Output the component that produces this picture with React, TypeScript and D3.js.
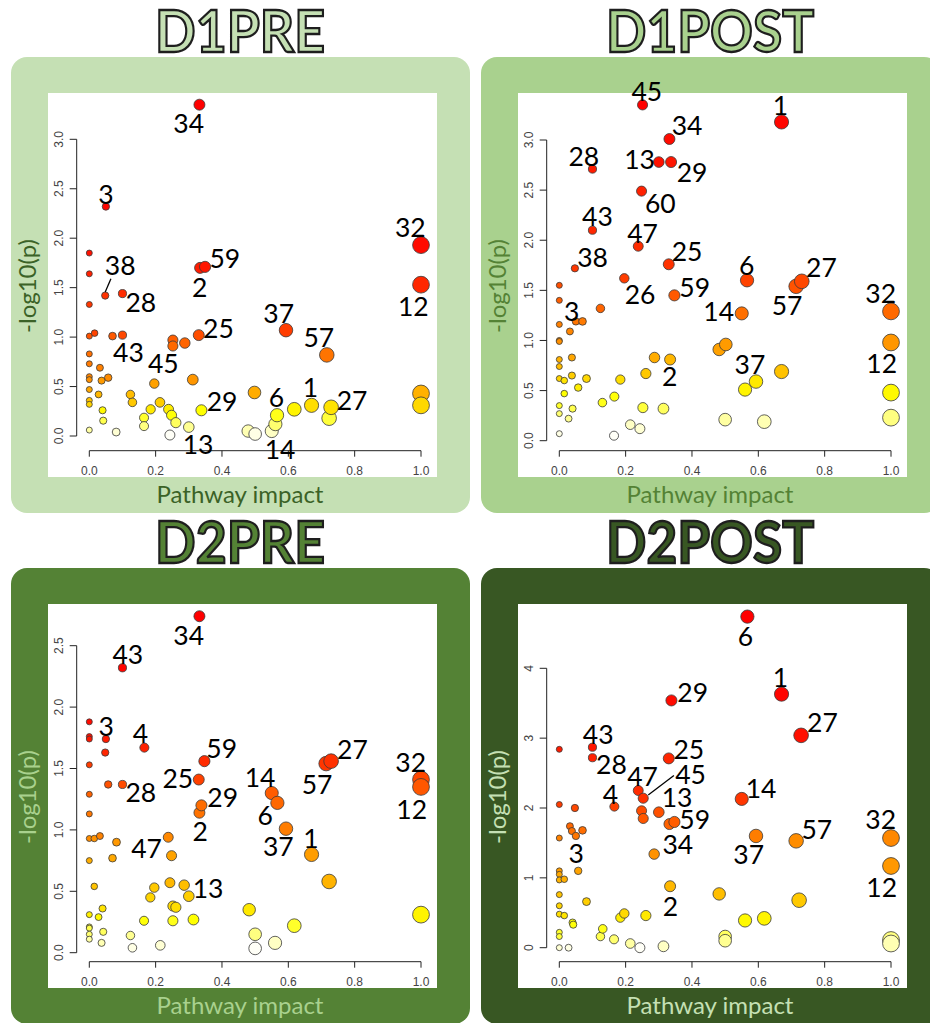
import React from "react";
import * as d3 from "d3";

type Pt = [number, number, string?];

// [pathway impact, -log10(p), label]
const d1prePoints: Pt[] = [
  [0.332, 3.35, "34"], [0.05, 2.32, "3"], [1.0, 1.93, "32"], [1.0, 1.53, "12"],
  [0, 1.85], [0, 1.64], [0, 1.33], [0, 1.01], [0.016, 1.04], [0, 0.83], [0, 0.73], [0, 0.6],
  [0, 0.57], [0, 0.47], [0, 0.36], [0, 0.32], [0, 0.06],
  [0.048, 1.42, "38"], [0.1, 1.44, "28"], [0.07, 1.01], [0.1, 1.02, "43"],
  [0.334, 1.7, "2"], [0.349, 1.71, "59"], [0.33, 1.02, "25"],
  [0.252, 0.97], [0.252, 0.91], [0.288, 0.94],
  [0.593, 1.07, "37"], [0.716, 0.82, "57"],
  [0.032, 0.69], [0.037, 0.56], [0.057, 0.59], [0.028, 0.42],
  [0.124, 0.42], [0.13, 0.34], [0.196, 0.53, "45"], [0.312, 0.57], [0.498, 0.44],
  [1.0, 0.43], [1.0, 0.31], [0.04, 0.26], [0.042, 0.155], [0.081, 0.04],
  [0.165, 0.185], [0.165, 0.1], [0.185, 0.27], [0.213, 0.34],
  [0.239, 0.27], [0.248, 0.21], [0.261, 0.135], [0.243, 0.01],
  [0.3, 0.09, "13"], [0.338, 0.26, "29"], [0.479, 0.05], [0.5, 0.02],
  [0.566, 0.21, "6"], [0.561, 0.12], [0.55, 0.05, "14"], [0.618, 0.27],
  [0.67, 0.31, "1"], [0.729, 0.29, "27"], [0.723, 0.18],
];

const d1postPoints: Pt[] = [
  [0.251, 3.35, "45"], [0.67, 3.18, "1"], [0.332, 3.01, "34"], [0.1, 2.71, "28"],
  [0.3, 2.78, "13"], [0.337, 2.78, "29"], [0.248, 2.49, "60"], [0.1, 2.1, "43"],
  [0.238, 1.94, "47"], [0.33, 1.76, "25"], [0.047, 1.72, "38"], [0.196, 1.62, "26"],
  [0.347, 1.45, "59"], [0.566, 1.6, "6"], [0.731, 1.59, "27"], [0.714, 1.54, "57"],
  [0.55, 1.27, "14"], [1.0, 1.29, "32"], [1.0, 0.98, "12"], [0.05, 1.19, "3"], [0.07, 1.19],
  [0, 1.55], [0, 1.4], [0, 1.16], [0, 1.0], [0, 0.99], [0, 0.81], [0, 0.74], [0, 0.62],
  [0, 0.35], [0, 0.27], [0, 0.07],
  [0.032, 1.09], [0.124, 1.32], [0.038, 0.83], [0.038, 0.65], [0.015, 0.6], [0.057, 0.53],
  [0.082, 0.62], [0.015, 0.47], [0.04, 0.32], [0.028, 0.22],
  [0.13, 0.38], [0.166, 0.44], [0.184, 0.61],
  [0.287, 0.83], [0.334, 0.81, "2"], [0.261, 0.67], [0.252, 0.33], [0.314, 0.32],
  [0.165, 0.05], [0.214, 0.16], [0.243, 0.12],
  [0.482, 0.91], [0.502, 0.96], [0.593, 0.59, "37"], [0.56, 0.51], [0.67, 0.69],
  [0.5, 0.21], [0.618, 0.19], [1.0, 0.48], [1.0, 0.23],
];

const d2prePoints: Pt[] = [
  [0.332, 2.74, "34"], [0.1, 2.32, "43"],
  [0, 1.88], [0, 1.76], [0, 1.74], [0, 1.53], [0, 1.29], [0, 1.13], [0, 0.93], [0, 0.75],
  [0, 0.31], [0, 0.21], [0, 0.2], [0, 0.15], [0, 0.11],
  [0.05, 1.74, "3"], [0.048, 1.63], [0.166, 1.67, "4"],
  [0.347, 1.56, "59"], [0.33, 1.41, "25"], [0.1, 1.37, "28"], [0.057, 1.37],
  [0.338, 1.2, "29"], [0.332, 1.14, "2"],
  [0.729, 1.56, "27"], [0.714, 1.54, "57"], [1.0, 1.41, "32"], [1.0, 1.35, "12"],
  [0.55, 1.3, "14"], [0.567, 1.22, "6"], [0.593, 1.01, "37"], [0.67, 0.8, "1"],
  [0.238, 0.94], [0.248, 0.79, "47"],
  [0.015, 0.93], [0.032, 0.95], [0.082, 0.9], [0.07, 0.77],
  [0.015, 0.54], [0.04, 0.36], [0.028, 0.29], [0.042, 0.17], [0.037, 0.08],
  [0.196, 0.53], [0.184, 0.45], [0.243, 0.57], [0.286, 0.55], [0.3, 0.46, "13"],
  [0.252, 0.38], [0.261, 0.37], [0.165, 0.26], [0.252, 0.26], [0.314, 0.27],
  [0.124, 0.14], [0.13, 0.04], [0.214, 0.06],
  [0.482, 0.35], [0.5, 0.15], [0.5, 0.035], [0.56, 0.08], [0.618, 0.22],
  [0.723, 0.58], [1.0, 0.31],
];

const d2postPoints: Pt[] = [
  [0.567, 4.74, "6"], [0.67, 3.63, "1"], [0.338, 3.54, "29"], [0.729, 3.04, "27"],
  [0.1, 2.87, "43"], [0.1, 2.72, "28"],
  [0, 2.84], [0, 2.05], [0, 1.57], [0, 1.1], [0, 1.05], [0, 0.97], [0, 0.76], [0, 0.6],
  [0, 0.48], [0, 0.22], [0, 0.16], [0, 0.0],
  [0.33, 2.71, "25"], [0.238, 2.25, "47"], [0.253, 2.14, "45"], [0.166, 2.02, "4"], [0.047, 2.0],
  [0.248, 1.96], [0.253, 1.85], [0.3, 1.94, "13"], [0.347, 1.8, "59"], [0.332, 1.77],
  [0.286, 1.34, "34"], [0.55, 2.13, "14"],
  [0.032, 1.74], [0.038, 1.67], [0.05, 1.6, "3"], [0.07, 1.68],
  [0.057, 1.1], [0.015, 0.98], [0.082, 0.66],
  [0.593, 1.6, "37"], [0.714, 1.53, "57"], [1.0, 1.57, "32"], [1.0, 1.17, "12"],
  [0.334, 0.88, "2"], [0.482, 0.77], [0.723, 0.68],
  [0.015, 0.46], [0.04, 0.36], [0.042, 0.33], [0.028, 0.0],
  [0.131, 0.27], [0.124, 0.16], [0.165, 0.12], [0.184, 0.43], [0.196, 0.49], [0.261, 0.46],
  [0.214, 0.06], [0.243, 0.0], [0.314, 0.02],
  [0.56, 0.39], [0.618, 0.42], [0.5, 0.16], [0.5, 0.1], [1.0, 0.11], [1.0, 0.06],
];

const xTicks = [0, 0.2, 0.4, 0.6, 0.8, 1.0];
const d1preTicks = [0, 0.5, 1, 1.5, 2, 2.5, 3];
const d1postTicks = [0, 0.5, 1, 1.5, 2, 2.5, 3];
const d2preTicks = [0, 0.5, 1, 1.5, 2, 2.5];
const d2postTicks = [0, 1, 2, 3, 4];

// label placement (px from point centre to label centre)
const d1preOffsets: Record<string, [number, number]> = {
  "34": [-10.7, 19.3], "3": [0, -11.7], "38": [15, -29.7], "28": [18.3, 9.3], "43": [6, 18],
  "45": [9, -19.7], "2": [-0.3, 19.7], "59": [19.7, -7.7], "25": [19.7, -6], "37": [-7.3, -16.3],
  "57": [-8, -17.3], "32": [-10.7, -17], "12": [-7.7, 22.3], "29": [20.7, -8.3], "13": [9.3, 18],
  "6": [-0.7, -17.3], "14": [8.3, 19], "1": [-1, -17.3], "27": [21, -6.3],
};
const d1postOffsets: Record<string, [number, number]> = {
  "45": [4.3, -13.3], "1": [-1, -15.7], "34": [17.7, -12.7], "28": [-8.7, -12.3], "13": [-19.3, -2.3],
  "29": [21, 10.7], "60": [18.7, 12.7], "43": [5, -13.3], "47": [4.3, -12.3], "25": [18.3, -12.3],
  "38": [17.7, -10.3], "26": [15.7, 16.7], "59": [20.3, -7.3], "6": [-0.3, -15], "27": [19.7, -13.3],
  "57": [-9, 19.3], "14": [-23, -1.7], "32": [-10.3, -17.3], "12": [-9.3, 21.7], "3": [-4.3, -10],
  "2": [-0.3, 17.7], "37": [-6, -16.7],
};
const d2preOffsets: Record<string, [number, number]> = {
  "34": [-10.7, 19.7], "43": [5.3, -13], "3": [0.3, -12], "4": [-4, -14.3], "59": [17.3, -12],
  "25": [-21, -1], "28": [18.3, 8.3], "29": [21.3, -7.3], "2": [0.7, 19], "27": [21.3, -11],
  "57": [-9, 21], "32": [-10.3, -16.7], "12": [-9.3, 22.7], "14": [-11.7, -15], "6": [-12.3, 12.7],
  "37": [-7.7, 18.3], "1": [-0.7, -15.7], "47": [-25, -7.3], "13": [19.3, -7],
};
const d2postOffsets: Record<string, [number, number]> = {
  "6": [-2, 19.7], "1": [-1, -16], "29": [21.3, -8], "27": [21.3, -12.3], "43": [5.7, -12],
  "28": [19, 7.3], "25": [20, -8.7], "47": [4.3, -14], "45": [47.3, -23.3], "4": [-4, -11.7],
  "13": [18.3, -14], "59": [20.3, -1.7], "34": [23.7, -9.3], "14": [19.3, -9.7], "3": [0.3, 17.7],
  "37": [-7.3, 19.3], "57": [20.7, -11], "32": [-10.3, -18.3], "12": [-9.3, 22.3], "2": [0.3, 20.3],
};
// leader lines: label -> [x1, y1, x2, y2] relative to point
const d1preLeaders: Record<string, number[]> = { "38": [0, -3.5, 5.7, -16.7] };
const d2postLeaders: Record<string, number[]> = { "45": [5, -3.3, 30.7, -22.7] };

const panels = [
  { title: "D1PRE", points: d1prePoints, offsets: d1preOffsets, leaders: d1preLeaders, yTicks: d1preTicks, fmt: ".1f",
    ox: 11, oy: 57, bg: "#c5e0b4", axisColor: "#3b6227", y0: 379, yTop: 82.3, titleW: 170 },
  { title: "D1POST", points: d1postPoints, offsets: d1postOffsets, leaders: {}, yTicks: d1postTicks, fmt: ".1f",
    ox: 481, oy: 57, bg: "#a9d18e", axisColor: "#548235", y0: 383.7, yTop: 83, titleW: 208 },
  { title: "D2PRE", points: d2prePoints, offsets: d2preOffsets, leaders: {}, yTicks: d2preTicks, fmt: ".1f",
    ox: 11, oy: 568, bg: "#548235", axisColor: "#a9d18e", y0: 384.7, yTop: 77.7, titleW: 170 },
  { title: "D2POST", points: d2postPoints, offsets: d2postOffsets, leaders: d2postLeaders, yTicks: d2postTicks, fmt: "d",
    ox: 481, oy: 568, bg: "#385723", axisColor: "#c5e0b4", y0: 379.7, yTop: 100.3, titleW: 208 },
];

// R's heat.colors(n)
function heatColors(n: number): string[] {
  const j = Math.floor(n / 4);
  const i = n - j;
  const out: string[] = [];
  for (let k = 0; k < i; k++) {
    const h = i > 1 ? (1 / 6) * (k / (i - 1)) : 0;
    out.push(d3.rgb(255, Math.round(h * 6 * 255), 0).formatHex());
  }
  for (let k = 0; k < j; k++) {
    const s0 = 1 - 1 / (2 * j), s1 = 1 / (2 * j);
    const s = j > 1 ? s0 + (k * (s1 - s0)) / (j - 1) : s0;
    out.push(d3.rgb(255, 255, Math.round((1 - s) * 255)).formatHex());
  }
  return out;
}

const radius = d3.scalePow().exponent(0.7).domain([0, 1]).range([3, 8.4]);

function Panel({ p }: { p: typeof panels[number] }) {
  const { ox, oy } = p;
  const x = d3.scaleLinear().domain([0, 1]).range([ox + 78.3, ox + 410]);
  const yTopVal = p.yTicks[p.yTicks.length - 1];
  const y = d3.scaleLinear().domain([0, yTopVal]).range([oy + p.y0, oy + p.yTop]);
  const order = d3.range(p.points.length).sort((a, b) => p.points[b][1] - p.points[a][1]);
  const cols = heatColors(p.points.length);
  const colorOf: string[] = [];
  order.forEach((idx, r) => (colorOf[idx] = cols[r]));
  const fmt = d3.format(p.fmt);
  const axisY = oy + 393.7;
  const axisX = ox + 65.7;
  const drawOrder = d3.range(p.points.length).sort((a, b) => p.points[a][0] - p.points[b][0]);

  return (
    <g>
      <rect x={ox} y={oy} width={459} height={456} rx={16} fill={p.bg} />
      <rect x={ox + 37} y={oy + 36} width={389} height={384} fill="#fff" />
      <text x={ox + 229} y={oy - 5} textAnchor="middle" fontFamily="Lato, sans-serif" fontWeight={700}
        fontSize={57} fill={p.bg} stroke="#1e1e1e" strokeWidth={2.3}
        textLength={p.titleW} lengthAdjust="spacingAndGlyphs">{p.title}</text>

      {/* axes */}
      <g stroke="#222" strokeWidth={1} fill="none">
        <line x1={x(0)} x2={x(1)} y1={axisY} y2={axisY} />
        {xTicks.map((t) => <line key={t} x1={x(t)} x2={x(t)} y1={axisY} y2={axisY + 6} />)}
        <line x1={axisX} x2={axisX} y1={y(0)} y2={y(yTopVal)} />
        {p.yTicks.map((t) => <line key={t} x1={axisX - 7} x2={axisX} y1={y(t)} y2={y(t)} />)}
      </g>
      <g fontFamily="'Liberation Sans', Arial, sans-serif" fontSize={12} fill="#444">
        {xTicks.map((t) => (
          <text key={t} x={x(t)} y={oy + 417.5} textAnchor="middle">{d3.format(".1f")(t)}</text>
        ))}
        {p.yTicks.map((t) => (
          <text key={t} transform={`translate(${ox + 52},${y(t)}) rotate(-90)`} textAnchor="middle">{fmt(t)}</text>
        ))}
      </g>
      <text x={ox + 229} y={oy + 446} textAnchor="middle" fontFamily="Lato, sans-serif" fontSize={24}
        fill={p.axisColor}>Pathway impact</text>
      <text transform={`translate(${ox + 25},${oy + 229}) rotate(-90)`} textAnchor="middle"
        fontFamily="Lato, sans-serif" fontSize={24} fill={p.axisColor}>-log10(p)</text>

      {/* points */}
      {drawOrder.map((i) => {
        const d = p.points[i];
        return (
          <circle key={i} cx={x(d[0])} cy={y(d[1])} r={radius(d[0])} fill={colorOf[i]}
            stroke="#3a3a3a" strokeWidth={0.8} />
        );
      })}

      {/* labels */}
      {p.points.filter((d) => d[2]).map((d) => {
        const lab = d[2] as string;
        const off = p.offsets[lab] || [0, -15];
        const cx = x(d[0]), cy = y(d[1]);
        const ld = (p.leaders as Record<string, number[]>)[lab];
        return (
          <g key={lab}>
            {ld && <line x1={cx + ld[0]} y1={cy + ld[1]} x2={cx + ld[2]} y2={cy + ld[3]} stroke="#000" strokeWidth={1.3} />}
            <text x={cx + off[0]} y={cy + off[1] + 9.2} textAnchor="middle" fontFamily="Lato, sans-serif"
              fontSize={26.5} fill="#000">{lab}</text>
          </g>
        );
      })}
    </g>
  );
}

export default function App() {
  return (
    <svg width={930} height={1023} style={{ position: "absolute", left: 0, top: 0, background: "#fff" }}>
      {panels.map((p) => <Panel key={p.title} p={p} />)}
    </svg>
  );
}
